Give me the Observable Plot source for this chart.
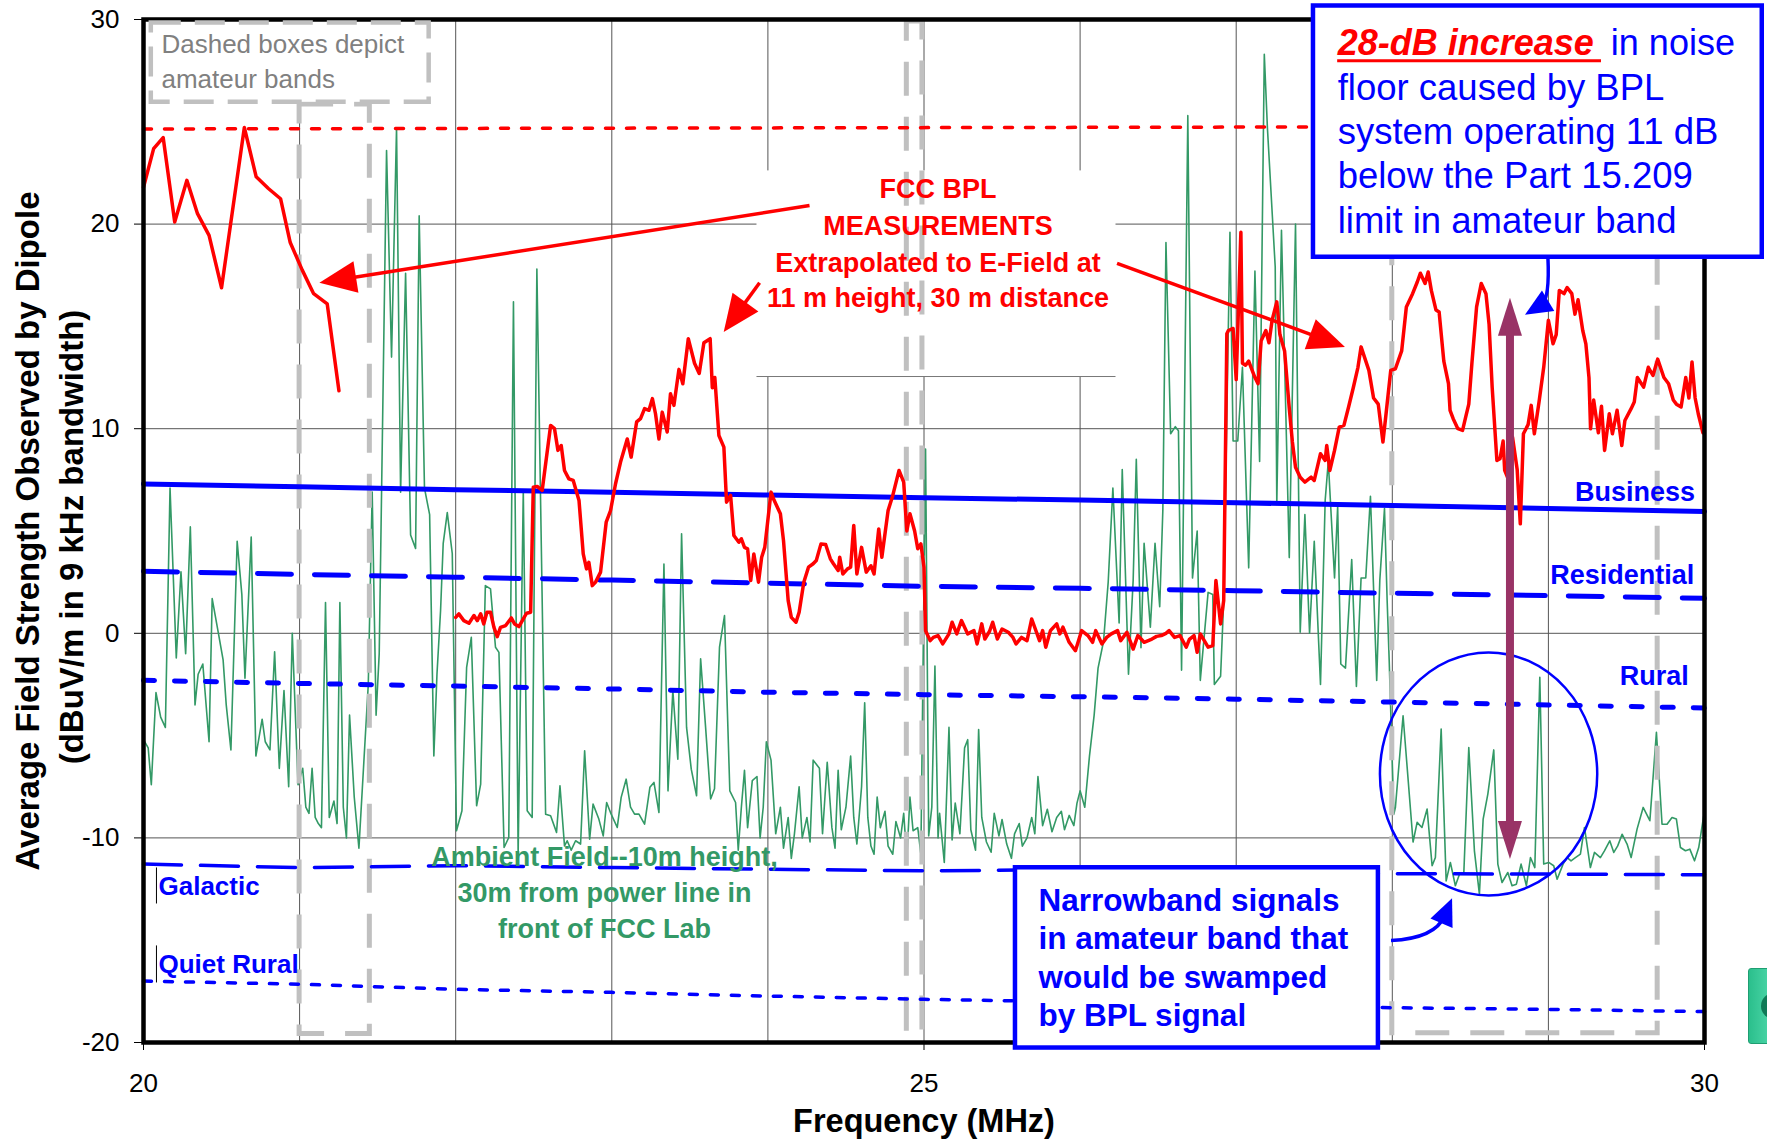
<!DOCTYPE html>
<html>
<head>
<meta charset="utf-8">
<script src="https://cdn.jsdelivr.net/npm/d3@7"></script>
<script src="https://cdn.jsdelivr.net/npm/@observablehq/plot@0.6"></script>
<style>
html,body{margin:0;padding:0;background:#fff;}
#chart{position:relative;width:1767px;height:1141px;overflow:hidden;}
#btn{position:absolute;left:1748px;top:968px;width:24px;height:74px;background:linear-gradient(90deg,#2bbf8c,#4fd8aa);border:1px solid #1f9e72;border-radius:3px;overflow:hidden;}
#btn::after{content:"";position:absolute;left:12px;top:24px;width:26px;height:26px;border-radius:50%;background:#0f7a56;}
</style>
</head>
<body>
<div id="chart"><div id="btn"></div></div>
<script>
const FONT = "'Liberation Sans', Arial, Helvetica, sans-serif";
const RED = "#ff0000", BLUE = "#0000ff", GREEN = "#339966", GRAY = "#c0c0c0", PURPLE = "#993366";

// ---------- axes ----------
const xTicks = [20, 25, 30];
const yTicks = [-20, -10, 0, 10, 20, 30];
const gridX = [21, 22, 23, 24, 25, 26, 27, 28, 29];
const gridY = [-10, 0, 10, 20];

// ---------- ITU noise-level reference curves (dBuV/m) ----------
const stdFreq     = [20, 21, 22, 23, 24, 25, 26, 27, 28, 29, 30];
const business    = [7.3, 7.16, 7.02, 6.89, 6.76, 6.63, 6.51, 6.38, 6.25, 6.1, 5.95];
const residential = [3.03, 2.88, 2.74, 2.6, 2.45, 2.3, 2.2, 2.08, 1.96, 1.84, 1.71];
const rural       = [-2.3, -2.45, -2.58, -2.72, -2.88, -3.0, -3.1, -3.22, -3.36, -3.5, -3.65];
const galactic    = [-11.28, -11.45, -11.36, -11.45, -11.53, -11.61, -11.55, -11.65, -11.75, -11.77, -11.8];
const quietRural  = [-17.0, -17.15, -17.4, -17.55, -17.73, -17.89, -18.02, -18.15, -18.3, -18.38, -18.49];

// Part 15.209 limit (dotted red)
const limitFreq  = [20, 30];
const limitLevel = [24.65, 24.78];

// amateur bands (MHz)
const bandLow    = [21.0, 24.89, 28.0];
const bandHigh   = [21.45, 24.99, 29.7];
const bandTop    = [25.85, 29.9, 29.9];
const bandBottom = [-19.58, -19.55, -19.55];

// ---------- FCC BPL measurements [MHz, dBuV/m] ----------
const bplPart1 = [
 [20.0,21.8],[20.065,23.69],[20.126,24.23],[20.2,20.1],[20.278,22.14],[20.346,20.51],[20.42,19.45],
 [20.5,16.89],[20.646,24.72],[20.722,22.31],[20.8,21.74],[20.878,21.24],[20.94,19.1],[21.017,17.75],
 [21.09,16.6],[21.177,16.1],[21.252,11.85]
];
const bplPart2 = [
 [22.0,0.78],[22.02,0.95],[22.052,0.62],[22.085,0.49],[22.117,0.87],[22.138,0.62],[22.16,0.95],[22.18,0.46],
 [22.2,1.03],[22.223,1.03],[22.245,0.29],[22.266,-0.16],[22.287,0.29],[22.32,0.38],[22.356,0.75],[22.377,0.46],
 [22.405,0.33],[22.433,0.7],[22.454,0.98],[22.48,1.03],[22.497,7.14],[22.522,7.18],[22.554,6.98],[22.608,10.16],
 [22.633,10.0],[22.655,8.94],[22.676,9.18],[22.697,7.96],[22.725,7.55],[22.753,7.47],[22.79,6.49],[22.817,3.88],
 [22.838,3.15],[22.853,3.47],[22.875,2.33],[22.896,2.5],[22.928,2.99],[22.964,5.43],[22.992,6.0],[23.024,7.31],
 [23.056,8.37],[23.099,9.5],[23.124,8.61],[23.159,10.33],[23.184,10.49],[23.21,10.98],[23.238,10.9],[23.26,11.47],
 [23.28,10.73],[23.302,9.5],[23.323,10.81],[23.355,9.84],[23.376,11.71],[23.398,11.14],[23.43,12.9],[23.455,12.2],
 [23.49,14.4],[23.53,13.2],[23.56,12.7],[23.59,14.2],[23.63,14.4],[23.644,12.0],[23.66,12.5],[23.686,9.67],
 [23.718,9.1],[23.735,6.41],[23.761,6.74],[23.782,4.78],[23.814,4.45],[23.83,4.62],[23.85,4.2],[23.87,4.13],
 [23.89,2.58],[23.91,3.88],[23.94,2.5],[23.96,3.72],[23.98,4.2],[24.02,6.9],[24.04,6.5],[24.08,5.84],
 [24.1,4.53],[24.13,1.6],[24.15,0.78],[24.18,0.54],[24.2,1.03],[24.23,2.5],[24.26,3.23],[24.29,3.4],
 [24.31,3.56],[24.34,4.37],[24.37,4.34],[24.4,3.64],[24.42,3.4],[24.45,3.07],[24.46,3.72],[24.48,2.9],
 [24.51,3.15],[24.53,3.23],[24.55,5.27],[24.57,2.9],[24.6,4.2],[24.63,2.99],[24.66,3.3],[24.68,2.9],
 [24.71,5.1],[24.73,3.72],[24.77,6.0],[24.8,6.74],[24.84,7.96],[24.87,7.39],[24.89,5.0],[24.91,5.84],
 [24.94,5.0],[24.96,4.13],[24.98,4.37],[25.0,3.23],[25.01,0.13],[25.04,-0.36],[25.06,-0.2],[25.09,-0.11],
 [25.12,-0.52],[25.16,-0.03],[25.18,0.54],[25.21,-0.03],[25.24,0.62],[25.28,-0.03],[25.32,0.13],[25.34,-0.52],
 [25.37,0.46],[25.39,-0.28],[25.42,0.1],[25.44,0.54],[25.47,-0.28],[25.5,0.21],[25.54,0.05],[25.57,-0.2],
 [25.59,-0.52],[25.625,-0.2],[25.66,-0.36],[25.69,0.7],[25.74,-0.36],[25.76,0.13],[25.78,-0.68],[25.81,0.13],
 [25.85,0.46],[25.87,-0.03],[25.89,0.3],[25.93,-0.44],[25.97,-0.85],[26.01,0.13],[26.05,-0.11],[26.08,-0.44],
 [26.1,0.13],[26.14,-0.52],[26.17,-0.2],[26.2,-0.03],[26.24,0.13],[26.26,-0.36],[26.3,0.05],[26.34,-0.77],
 [26.37,-0.11],[26.41,-0.44],[26.46,-0.28],[26.49,-0.15],[26.52,-0.11],[26.55,0.0],[26.57,0.13],[26.605,-0.2],
 [26.64,-0.11],[26.68,-0.68],[26.7,-0.3],[26.73,-0.11],[26.75,-0.93],[26.77,-0.03],[26.82,-0.68],[26.85,-0.6],
 [26.87,2.58],[26.9,0.46],[26.92,1.6],[26.94,14.64],[26.95,14.8],[26.98,14.9],[27.0,12.4],[27.03,19.6],
 [27.04,13.2],[27.06,13.1],[27.08,13.3],[27.12,12.5],[27.14,12.2],[27.16,14.3],[27.19,14.8],[27.21,14.2],
 [27.23,15.3],[27.26,16.2],[27.28,14.6],[27.31,13.8],[27.34,11.0],[27.36,9.35],[27.38,8.12],[27.41,7.63],
 [27.44,7.39],[27.48,7.63],[27.5,7.47],[27.54,8.78],[27.57,8.45],[27.58,9.18],[27.6,7.96],[27.63,8.94],
 [27.66,10.08],[27.69,10.16],[27.72,11.06],[27.75,12.0],[27.78,13.0],[27.8,14.0],[27.85,12.85],[27.88,11.5],
 [27.91,11.2],[27.94,9.35],[27.96,10.73],[27.99,12.85],[28.02,12.93],[28.06,13.8],[28.09,15.95],[28.13,16.6],
 [28.16,17.17],[28.18,17.6],[28.21,17.1],[28.23,17.66],[28.25,16.76],[28.28,15.8],[28.3,15.7],[28.33,13.3],
 [28.36,12.2],[28.37,10.9],[28.39,10.49],[28.42,10.0],[28.45,9.92],[28.47,10.57],[28.49,11.2],[28.51,13.2],
 [28.54,15.95],[28.57,17.1],[28.6,16.6],[28.62,15.1],[28.64,12.0],[28.67,8.45],[28.69,8.53],[28.71,9.4],
 [28.72,7.96],[28.75,7.4],[28.77,9.6],[28.8,8.0],[28.82,5.35],[28.84,9.75],[28.87,10.2],[28.89,11.14],
 [28.91,9.75],[28.94,11.3],[28.97,13.0],[29.0,15.3],[29.03,14.15],[29.05,14.6],[29.07,16.76],[29.1,16.6],
 [29.12,16.9],[29.15,16.6],[29.17,15.6],[29.19,16.3],[29.22,14.8],[29.24,14.15],[29.26,12.5],[29.27,10.0],
 [29.29,11.4],[29.32,9.8],[29.34,11.1],[29.36,8.94],[29.39,10.73],[29.41,9.75],[29.44,10.9],[29.47,9.18],
 [29.49,10.4],[29.53,10.98],[29.55,11.3],[29.57,12.5],[29.61,12.03],[29.64,13.0],[29.67,12.6],[29.7,13.4],
 [29.74,12.5],[29.77,12.2],[29.8,11.4],[29.82,11.2],[29.85,11.06],[29.88,12.5],[29.9,11.5],[29.92,13.26],
 [29.94,11.5],[29.96,10.73],[29.99,9.8]
];

// ---------- Ambient field, 10 m height [MHz, dBuV/m] ----------
const ambient = [
 [20.0,-5.2],[20.03,-5.6],[20.05,-7.4],[20.08,-2.9],[20.11,-4.1],[20.14,-4.6],[20.17,7.1],[20.21,-1.2],
 [20.24,3.0],[20.27,-1.0],[20.3,5.2],[20.33,-3.5],[20.35,-2.0],[20.38,-1.5],[20.42,-5.3],[20.44,1.7],
 [20.48,0.0],[20.51,-1.3],[20.53,-3.5],[20.56,-5.7],[20.6,4.5],[20.63,1.9],[20.65,-2.2],[20.69,4.7],
 [20.72,-6.0],[20.76,-4.2],[20.78,-5.3],[20.81,-5.7],[20.84,-0.9],[20.87,-6.6],[20.9,-2.8],[20.93,-7.5],
 [20.953,0.0],[20.99,-7.4],[21.02,-6.6],[21.04,-8.5],[21.06,-8.8],[21.08,-6.6],[21.1,-9.0],[21.12,-9.3],
 [21.14,-9.5],[21.166,1.5],[21.19,-9.0],[21.22,-8.2],[21.24,-9.3],[21.258,1.5],[21.28,-8.5],[21.3,-10.0],
 [21.32,-4.0],[21.35,-8.0],[21.38,-10.5],[21.41,-6.5],[21.44,-2.5],[21.465,6.9],[21.49,-4.0],[21.51,-1.0],
 [21.557,23.6],[21.589,13.5],[21.621,24.7],[21.647,6.9],[21.679,17.6],[21.711,4.8],[21.743,4.15],[21.766,20.4],
 [21.8,7.1],[21.833,5.8],[21.86,-6.0],[21.88,-2.0],[21.903,1.1],[21.92,4.4],[21.946,5.9],[21.978,3.9],
 [22.005,-9.65],[22.04,-8.67],[22.07,-1.66],[22.1,-0.2],[22.134,-8.43],[22.16,-7.37],[22.19,2.33],[22.223,2.17],
 [22.255,-0.68],[22.277,-0.93],[22.31,-10.47],[22.34,-9.98],[22.37,16.2],[22.4,-10.8],[22.433,6.98],[22.458,-8.67],
 [22.49,-9.0],[22.52,17.8],[22.576,-8.84],[22.608,-8.92],[22.646,-9.73],[22.668,-7.45],[22.697,-10.39],[22.714,-10.14],
 [22.74,-10.6],[22.768,-10.14],[22.8,-10.3],[22.826,-5.74],[22.858,-10.06],[22.88,-8.35],[22.917,-9.08],[22.945,-9.9],
 [22.967,-8.27],[22.996,-8.84],[23.035,-9.49],[23.06,-8.02],[23.092,-7.13],[23.12,-8.5],[23.146,-8.84],[23.174,-8.84],
 [23.21,-9.33],[23.244,-7.53],[23.27,-7.29],[23.302,-8.76],[23.334,3.39],[23.36,-7.7],[23.391,-2.8],[23.423,-6.15],
 [23.447,4.86],[23.479,-4.6],[23.509,-6.64],[23.543,-7.94],[23.569,-1.25],[23.6,-4.5],[23.633,-8.1],[23.658,-7.6],
 [23.69,-0.68],[23.722,0.87],[23.756,-7.7],[23.793,-8.27],[23.81,-10.6],[23.83,-8.5],[23.85,-6.7],[23.87,-9.5],
 [23.9,-7.2],[23.93,-7.0],[23.95,-10.0],[23.97,-8.5],[23.99,-5.3],[24.02,-6.2],[24.05,-9.8],[24.08,-8.5],
 [24.1,-10.5],[24.13,-9.0],[24.15,-11.0],[24.17,-9.8],[24.2,-7.5],[24.22,-10.0],[24.25,-9.0],[24.27,-10.2],
 [24.29,-6.2],[24.33,-6.6],[24.35,-9.8],[24.38,-6.3],[24.41,-9.5],[24.43,-10.5],[24.45,-6.7],[24.47,-9.6],
 [24.5,-8.5],[24.53,-6.0],[24.55,-9.0],[24.57,-10.3],[24.6,-7.5],[24.62,-3.4],[24.64,-9.0],[24.66,-10.4],
 [24.68,-10.8],[24.7,-8.0],[24.72,-9.5],[24.75,-8.7],[24.77,-10.4],[24.8,-10.8],[24.82,-9.2],[24.85,-10.0],
 [24.87,-8.8],[24.89,-11.0],[24.91,-8.0],[24.93,-9.65],[24.96,-9.5],[24.98,-10.8],[25.01,9.0],[25.03,-9.9],
 [25.05,-8.5],[25.07,-1.6],[25.09,-10.0],[25.1,-8.8],[25.13,-11.2],[25.16,-4.6],[25.18,-10.1],[25.2,-8.3],
 [25.23,-9.8],[25.26,-5.6],[25.28,-5.2],[25.3,-9.6],[25.33,-10.6],[25.35,-4.7],[25.37,-9.0],[25.4,-10.2],
 [25.43,-10.7],[25.45,-8.8],[25.48,-9.9],[25.5,-9.1],[25.53,-10.3],[25.56,-11.0],[25.58,-9.8],[25.61,-9.3],
 [25.63,-10.4],[25.66,-10.0],[25.69,-9.0],[25.71,-9.8],[25.73,-7.0],[25.76,-9.4],[25.79,-8.6],[25.82,-9.7],
 [25.85,-9.0],[25.88,-8.7],[25.9,-9.6],[25.93,-8.9],[25.96,-9.4],[25.98,-8.3],[26.0,-7.7],[26.03,-8.5],
 [26.06,-6.0],[26.09,-4.0],[26.115,-1.7],[26.15,-0.4],[26.18,2.5],[26.21,7.1],[26.25,0.5],[26.27,8.0],
 [26.31,-2.0],[26.34,2.6],[26.36,8.5],[26.39,-0.7],[26.41,4.4],[26.45,0.3],[26.48,4.4],[26.51,1.3],
 [26.53,6.0],[26.55,19.1],[26.58,9.75],[26.61,10.1],[26.63,9.9],[26.65,-1.8],[26.69,25.3],[26.72,2.7],
 [26.75,5.0],[26.77,-2.3],[26.82,2.0],[26.85,1.9],[26.86,-2.5],[26.9,-2.1],[26.92,1.6],[26.96,19.6],
 [26.98,9.4],[27.01,9.4],[27.04,13.0],[27.08,3.2],[27.12,17.7],[27.15,8.4],[27.18,28.3],[27.2,24.7],
 [27.25,17.9],[27.26,6.3],[27.29,19.7],[27.34,3.7],[27.38,20.0],[27.41,0.05],[27.44,5.8],[27.47,0.0],
 [27.5,4.5],[27.54,-2.5],[27.57,6.5],[27.59,8.4],[27.63,2.7],[27.65,6.2],[27.67,-1.5],[27.7,-1.7],
 [27.74,3.6],[27.77,-2.6],[27.8,2.7],[27.83,2.7],[27.86,6.7],[27.9,-2.3],[27.92,2.6],[27.95,6.1],
 [27.967,1.6],[27.98,-1.3],[28.01,-8.84],[28.02,-8.5],[28.069,-4.03],[28.133,-10.2],[28.159,-9.24],[28.19,-9.49],
 [28.223,-8.59],[28.255,-11.36],[28.276,-10.96],[28.313,-4.68],[28.345,-12.1],[28.372,-11.2],[28.404,-12.34],[28.432,-11.74],
 [28.458,-11.74],[28.49,-5.58],[28.526,-10.63],[28.558,-12.75],[28.582,-9.08],[28.612,-7.86],[28.65,-5.7],[28.676,-11.28],
 [28.703,-12.18],[28.74,-11.69],[28.767,-12.34],[28.795,-12.26],[28.825,-11.28],[28.859,-12.34],[28.885,-10.96],[28.913,-11.45],
 [28.945,-2.15],[28.97,-11.28],[29.002,-11.2],[29.034,-11.36],[29.056,-12.02],[29.094,-11.28],[29.12,-10.96],[29.145,-11.12],
 [29.173,-10.96],[29.205,-10.79],[29.231,-9.49],[29.269,-11.45],[29.295,-10.71],[29.333,-10.96],[29.359,-10.63],[29.393,-10.14],
 [29.419,-10.71],[29.444,-10.39],[29.472,-9.82],[29.504,-10.3],[29.53,-10.96],[29.568,-9.57],[29.607,-8.51],[29.65,-9.16],
 [29.692,-4.84],[29.728,-9.33],[29.76,-9.33],[29.792,-9.0],[29.82,-9.08],[29.846,-10.47],[29.878,-10.63],[29.906,-10.55],
 [29.936,-11.12],[29.963,-10.47],[29.995,-8.92]
];

// ---------- annotation anchors (data units) ----------
const noteLines = ["Dashed boxes depict", "amateur bands"];
const noteY = [28.77, 27.05];
const fccLines = ["FCC BPL", "MEASUREMENTS", "Extrapolated to E-Field at", "11 m height, 30 m distance"];
const fccY = [21.68, 19.87, 18.06, 16.35];
const limitLines = ["floor caused by BPL", "system operating 11 dB", "below the Part 15.209", "limit in amateur band"];
const limitY = [26.62, 24.47, 22.32, 20.12];
const ambientLines = ["Ambient Field--10m height,", "30m from power line in", "front of FCC Lab"];
const ambientY = [-10.94, -12.71, -14.47];
const narrowLines = ["Narrowband signals", "in amateur band that", "would be swamped", "by BPL signal"];
const narrowY = [-13.08, -14.94, -16.85, -18.71];
const curveNames = ["Business", "Residential", "Rural"];
const curveNameX = [29.94, 29.935, 29.9];
const curveNameY = [6.91, 2.85, -2.09];
const lowNames = ["Galactic", "Quiet Rural"];
const lowNameY = [-12.38, -16.19];

const redArrows = [
  {x1: 24.27, y1: 20.88, x2: 21.13, y2: 17.11},
  {x1: 23.95, y1: 17.11, x2: 23.72, y2: 14.7},
  {x1: 26.24, y1: 18.06, x2: 27.7, y2: 13.97}
];
const blueArrows = [
  {x1: 29.0, y1: 18.38, cx: 29.013, cy: 16.28, x2: 28.853, y2: 15.55},
  {x1: 27.995, y1: -15.04, cx: 28.277, cy: -14.94, x2: 28.386, y2: -12.98}
];
const swampArrow = [{x1: 28.757, y1: 16.37, x2: 28.757, y2: -11.06}];
const circleSpot = [{x: 28.62, y: -6.9, rx: 0.696, ry: 5.94}];

// ---------- tables ----------
const rows = pairs => pairs.map(([f, v]) => ({f, v}));
const stdRows = vals => stdFreq.map((f, i) => ({f, v: vals[i]}));
const limitRows = limitFreq.map((f, i) => ({f, v: limitLevel[i]}));
const bands = bandLow.map((lo, i) => ({x1: lo, x2: bandHigh[i], y1: bandBottom[i], y2: bandTop[i]}));

function arrowMark(list, {color, width, headLength, headWidth, both = false}) {
  return Plot.dot(list, {
    x: "x2", y: "y2", r: 1,
    render: (index, scales) => {
      const g = d3.create("svg:g");
      const head = (tx, ty, fx, fy) => {
        const dx = tx - fx, dy = ty - fy, L = Math.hypot(dx, dy) || 1;
        const ux = dx / L, uy = dy / L, hw = headWidth / 2;
        const bx = tx - ux * headLength, by = ty - uy * headLength;
        g.append("path")
          .attr("d", `M${tx},${ty}L${bx - uy * hw},${by + ux * hw}L${bx + uy * hw},${by - ux * hw}Z`)
          .attr("fill", color);
        return [tx - ux * headLength * 0.7, ty - uy * headLength * 0.7];
      };
      for (const i of index) {
        const d = list[i];
        const x1 = scales.x(d.x1), y1 = scales.y(d.y1), x2 = scales.x(d.x2), y2 = scales.y(d.y2);
        const cx = d.cx != null ? scales.x(d.cx) : (x1 + x2) / 2;
        const cy = d.cy != null ? scales.y(d.cy) : (y1 + y2) / 2;
        const [ex, ey] = head(x2, y2, cx, cy);
        let sx = x1, sy = y1;
        if (both) [sx, sy] = head(x1, y1, cx, cy);
        g.append("path")
          .attr("d", `M${sx},${sy}Q${cx},${cy} ${ex},${ey}`)
          .attr("fill", "none").attr("stroke", color).attr("stroke-width", width);
      }
      return g.node();
    }
  });
}

function ellipseMark(list, {stroke, strokeWidth}) {
  return Plot.dot(list, {
    x: "x", y: "y", r: 1,
    render: (index, scales) => {
      const g = d3.create("svg:g");
      for (const i of index) {
        const d = list[i];
        const cx = scales.x(d.x), cy = scales.y(d.y);
        g.append("ellipse")
          .attr("cx", cx).attr("cy", cy)
          .attr("rx", Math.abs(scales.x(d.x + d.rx) - cx))
          .attr("ry", Math.abs(scales.y(d.y + d.ry) - cy))
          .attr("fill", "none").attr("stroke", stroke).attr("stroke-width", strokeWidth);
      }
      return g.node();
    }
  });
}

const txt = (extra) => Object.assign({fontFamily: FONT}, extra);

const chart = Plot.plot({
  width: 1767,
  height: 1141,
  marginLeft: 143,
  marginRight: 63,
  marginTop: 19,
  marginBottom: 99,
  style: {fontFamily: FONT, fontSize: "26px", color: "black", background: "white", overflow: "visible"},
  x: {domain: [20, 30], ticks: xTicks, tickSize: 8, tickPadding: 23, tickFormat: d => String(d), label: null},
  y: {domain: [-20, 30], ticks: yTicks, tickSize: 9, tickPadding: 15, tickFormat: d => String(d), label: null},
  marks: [
    Plot.ruleX(gridX, {stroke: "#555", strokeWidth: 1}),
    Plot.ruleY(gridY, {stroke: "#555", strokeWidth: 1}),
    // white backing of the FCC caption
    Plot.rect([{x1: 23.93, x2: 26.23, y1: 12.55, y2: 22.6}], {x1: "x1", x2: "x2", y1: "y1", y2: "y2", fill: "white"}),
    Plot.ruleY([12.55], {x1: 23.93, x2: 26.23, stroke: "#777", strokeWidth: 1}),

    // ambient field
    Plot.line(rows(ambient), {x: "f", y: "v", stroke: GREEN, strokeWidth: 1.6, strokeLinejoin: "round"}),

    // amateur bands
    Plot.rect(bands, {x1: "x1", x2: "x2", y1: "y1", y2: "y2", fill: "none", stroke: GRAY, strokeWidth: 5, strokeDasharray: "34,21"}),

    // reference noise curves
    Plot.line(stdRows(business), {x: "f", y: "v", stroke: BLUE, strokeWidth: 5}),
    Plot.line(stdRows(residential), {x: "f", y: "v", stroke: BLUE, strokeWidth: 5, strokeDasharray: "34,23"}),
    Plot.line(stdRows(rural), {x: "f", y: "v", stroke: BLUE, strokeWidth: 5, strokeDasharray: "11,20"}),
    Plot.line(stdRows(galactic), {x: "f", y: "v", stroke: BLUE, strokeWidth: 3.5, strokeDasharray: "38,19"}),
    Plot.line(stdRows(quietRural), {x: "f", y: "v", stroke: BLUE, strokeWidth: 3.5, strokeDasharray: "8,13"}),
    Plot.line(limitRows, {x: "f", y: "v", stroke: RED, strokeWidth: 3.5, strokeDasharray: "8,13"}),

    // BPL measurements
    Plot.line(rows(bplPart1), {x: "f", y: "v", stroke: RED, strokeWidth: 3.5, strokeLinejoin: "round"}),
    Plot.line(rows(bplPart2), {x: "f", y: "v", stroke: RED, strokeWidth: 3.5, strokeLinejoin: "round"}),

    Plot.frame({stroke: "black", strokeWidth: 4.5}),

    // amateur band note
    Plot.rect([{x1: 20.05, x2: 21.83, y1: 25.96, y2: 29.83}], {x1: "x1", x2: "x2", y1: "y1", y2: "y2", fill: "white", stroke: GRAY, strokeWidth: 4.5, strokeDasharray: "30,14"}),
    Plot.text(noteLines, txt({x: 20.115, y: (d, i) => noteY[i], text: d => d, textAnchor: "start", fill: "#808080", fontSize: 26})),

    // FCC caption & arrows
    Plot.text(fccLines, txt({x: 25.09, y: (d, i) => fccY[i], text: d => d, fill: RED, fontWeight: "bold", fontSize: 27})),
    arrowMark(redArrows, {color: RED, width: 3.5, headLength: 37, headWidth: 32}),

    // curve labels
    Plot.text(curveNames, txt({x: (d, i) => curveNameX[i], y: (d, i) => curveNameY[i], text: d => d, textAnchor: "end", fill: BLUE, fontWeight: "bold", fontSize: 27})),
    Plot.text(lowNames, txt({x: 20.096, y: (d, i) => lowNameY[i], text: d => d, textAnchor: "start", fill: BLUE, fontWeight: "bold", fontSize: 26})),
    Plot.ruleX([20.083], {y1: -11.47, y2: -13.23, stroke: "black", strokeWidth: 1}),
    Plot.ruleX([20.083], {y1: -15.28, y2: -17.09, stroke: "black", strokeWidth: 1}),

    // ambient caption
    Plot.text(ambientLines, txt({x: 22.953, y: (d, i) => ambientY[i], text: d => d, fill: GREEN, fontWeight: "bold", fontSize: 27})),

    // narrowband circle and 28 dB arrow
    ellipseMark(circleSpot, {stroke: BLUE, strokeWidth: 2.5}),
    arrowMark(swampArrow, {color: PURPLE, width: 8, headLength: 38, headWidth: 24, both: true}),

    // 28 dB box
    Plot.rect([{x1: 27.495, x2: 30.37, y1: 18.38, y2: 30.66}], {x1: "x1", x2: "x2", y1: "y1", y2: "y2", fill: "white", stroke: BLUE, strokeWidth: 4.5}),
    Plot.text(["28-dB increase"], txt({x: 27.65, y: 28.83, text: d => d, textAnchor: "start", fill: RED, fontWeight: "bold", fontStyle: "italic", fontSize: 36})),
    Plot.ruleY([27.98], {x1: 27.65, x2: 29.34, stroke: RED, strokeWidth: 3}),
    Plot.text(["in noise"], txt({x: 29.40, y: 28.83, text: d => d, textAnchor: "start", fill: BLUE, fontSize: 36})),
    Plot.text(limitLines, txt({x: 27.65, y: (d, i) => limitY[i], text: d => d, textAnchor: "start", fill: BLUE, fontSize: 36.5})),

    // narrowband box
    Plot.rect([{x1: 25.586, x2: 27.911, y1: -20.27, y2: -11.46}], {x1: "x1", x2: "x2", y1: "y1", y2: "y2", fill: "white", stroke: BLUE, strokeWidth: 4.5}),
    Plot.text(narrowLines, txt({x: 25.733, y: (d, i) => narrowY[i], text: d => d, textAnchor: "start", fill: BLUE, fontWeight: "bold", fontSize: 31.5})),
    arrowMark(blueArrows, {color: BLUE, width: 3.5, headLength: 27, headWidth: 24}),

    // axis titles
    Plot.text(["Average Field Strength Observed by Dipole"], txt({frameAnchor: "left", dx: -115, rotate: -90, textAnchor: "middle", lineAnchor: "middle", text: d => d, fontWeight: "bold", fontSize: 33})),
    Plot.text(["(dBuV/m in 9 kHz bandwidth)"], txt({frameAnchor: "left", dx: -71, dy: 6, rotate: -90, textAnchor: "middle", lineAnchor: "middle", text: d => d, fontWeight: "bold", fontSize: 33})),
    Plot.text(["Frequency (MHz)"], txt({frameAnchor: "bottom", dy: 79, textAnchor: "middle", lineAnchor: "middle", text: d => d, fontWeight: "bold", fontSize: 32.5}))
  ]
});

document.getElementById("chart").prepend(chart);
</script>
</body>
</html>
